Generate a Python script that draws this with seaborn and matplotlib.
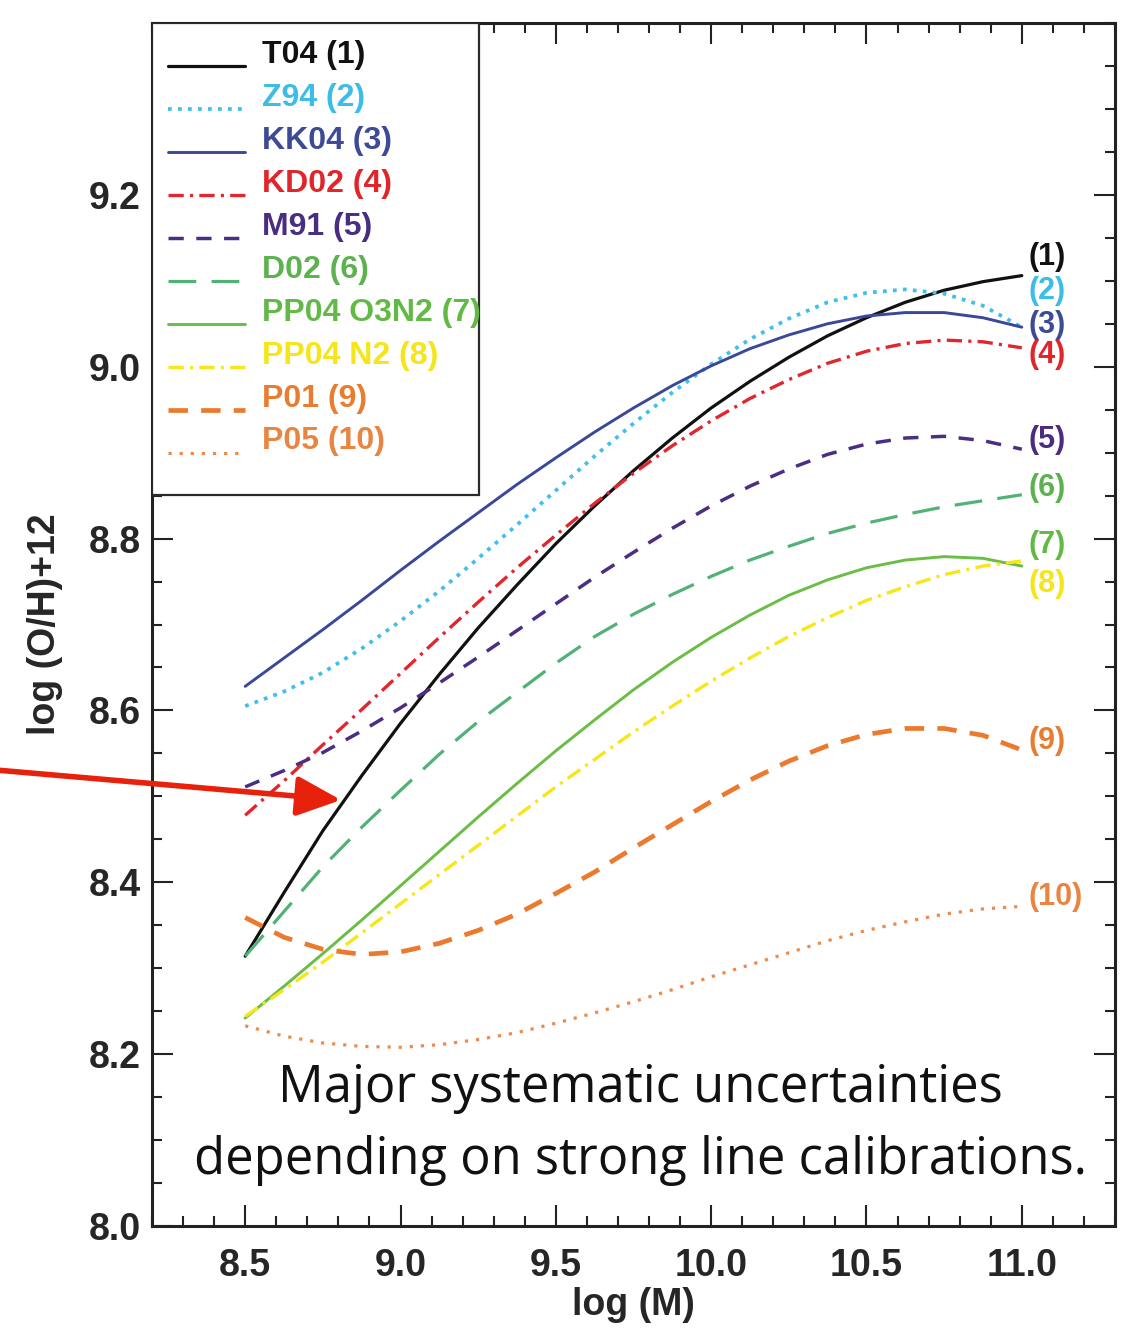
import numpy as np
import pandas as pd
import matplotlib
matplotlib.use("Agg")
import matplotlib.pyplot as plt
import seaborn as sns
from matplotlib.patches import Rectangle
from matplotlib.ticker import MultipleLocator, FormatStrFormatter

# ---- data: 12+log(O/H) versus log stellar mass for ten calibrations ----
log_mass = [8.5, 8.625, 8.75, 8.875, 9.0, 9.125, 9.25, 9.375, 9.5, 9.625,
            9.75, 9.875, 10.0, 10.125, 10.25, 10.375, 10.5, 10.625, 10.75,
            10.875, 11.0]

t04 = [8.314, 8.388, 8.460, 8.524, 8.585, 8.642, 8.696, 8.746, 8.794, 8.838,
       8.879, 8.917, 8.952, 8.983, 9.011, 9.036, 9.057, 9.075, 9.089, 9.099,
       9.106]
z94 = [8.605, 8.622, 8.644, 8.672, 8.704, 8.739, 8.777, 8.816, 8.856, 8.896,
       8.934, 8.970, 9.003, 9.032, 9.056, 9.075, 9.086, 9.090, 9.085, 9.071,
       9.046]
kk04 = [8.628, 8.661, 8.694, 8.728, 8.763, 8.797, 8.830, 8.863, 8.894, 8.924,
        8.952, 8.978, 9.001, 9.021, 9.037, 9.050, 9.059, 9.063, 9.063, 9.057,
        9.046]
kd02 = [8.478, 8.518, 8.560, 8.601, 8.643, 8.685, 8.726, 8.766, 8.804, 8.841,
        8.876, 8.908, 8.937, 8.963, 8.985, 9.004, 9.018, 9.027, 9.031, 9.029,
        9.022]
m91 = [8.511, 8.530, 8.551, 8.576, 8.603, 8.632, 8.662, 8.693, 8.724, 8.755,
       8.784, 8.812, 8.838, 8.861, 8.881, 8.898, 8.910, 8.917, 8.919, 8.914,
       8.904]
d02 = [8.314, 8.366, 8.418, 8.464, 8.507, 8.549, 8.587, 8.621, 8.655, 8.686,
       8.712, 8.735, 8.756, 8.775, 8.791, 8.806, 8.818, 8.828, 8.837, 8.844,
       8.851]
pp04_o3n2 = [8.242, 8.279, 8.317, 8.356, 8.396, 8.436, 8.476, 8.515, 8.553,
             8.589, 8.624, 8.656, 8.685, 8.711, 8.734, 8.752, 8.766, 8.775,
             8.779, 8.777, 8.768]
pp04_n2 = [8.244, 8.275, 8.307, 8.341, 8.375, 8.409, 8.443, 8.477, 8.511,
           8.543, 8.575, 8.605, 8.634, 8.661, 8.686, 8.708, 8.728, 8.744,
           8.758, 8.768, 8.774]
p01 = [8.359, 8.336, 8.322, 8.316, 8.319, 8.329, 8.344, 8.363, 8.387, 8.412,
       8.440, 8.467, 8.494, 8.519, 8.541, 8.559, 8.572, 8.579, 8.579, 8.571,
       8.554]
p05 = [8.233, 8.221, 8.213, 8.209, 8.208, 8.211, 8.217, 8.225, 8.236, 8.248,
       8.261, 8.275, 8.290, 8.304, 8.318, 8.332, 8.344, 8.354, 8.363, 8.369,
       8.372]

calibrations = ["T04", "Z94", "KK04", "KD02", "M91", "D02",
                "PP04 O3N2", "PP04 N2", "P01", "P05"]
series = [t04, z94, kk04, kd02, m91, d02, pp04_o3n2, pp04_n2, p01, p05]

x_ticks = [8.5, 9.0, 9.5, 10.0, 10.5, 11.0]
y_ticks = [8.0, 8.2, 8.4, 8.6, 8.8, 9.0, 9.2]

# vertical placement of the "(n)" tags at the right end of each curve
tag_y = [9.128, 9.088, 9.049, 9.014, 8.915, 8.859, 8.792, 8.747, 8.565, 8.383]

df = pd.DataFrame({
    "log_mass": log_mass * len(series),
    "oh": np.concatenate(series),
    "calibration": np.repeat(calibrations, len(log_mass)),
})

# ---- styling per calibration ----
line_colors = ["#111111", "#3fc0ea", "#3a4899", "#e2262e", "#4b2e83",
               "#52b276", "#6abd45", "#f6e61a", "#ec7a2e", "#ee8a4c"]
text_colors = ["#111111", "#3cbde8", "#3d4a96", "#e0252b", "#4a2c80",
               "#5cb24e", "#62b946", "#f5e51a", "#e87d31", "#e98540"]
widths = [2.3, 2.7, 2.1, 2.4, 2.5, 2.3, 2.1, 2.4, 3.4, 2.3]
styles = ["-", (0, (2.7, 4.5)), "-", (0, (11, 4.5, 2.2, 4.5)), (0, (11, 9)),
          (0, (20, 11)), "-", (0, (11, 4.5, 2.2, 4.5)), (0, (14, 9.5)),
          (0, (2.3, 5.7))]

sns.set_style("white")
plt.rcParams["font.family"] = ["Liberation Sans", "DejaVu Sans"]
plt.rcParams["lines.scale_dashes"] = False

W, H = 1129, 1331
fig = plt.figure(figsize=(W / 100, H / 100), dpi=100)
ax = fig.add_axes([152 / W, 1 - 1226 / H, (1115 - 152) / W, (1226 - 23) / H])

for name, col, lw, ls in zip(calibrations, line_colors, widths, styles):
    sns.lineplot(data=df[df["calibration"] == name], x="log_mass", y="oh",
                 ax=ax, color=col, linewidth=lw, linestyle=ls,
                 errorbar=None, sort=True, zorder=3)

ax.set_xlim(8.2, 11.3)
ax.set_ylim(8.0, 9.4)

# ---- legend box drawn inside the axes ----
box = Rectangle((8.2, 8.851), 1.054, 0.549, facecolor="white",
                edgecolor="#2a2a2a", linewidth=1.6, zorder=4)
ax.add_patch(box)
for i, (name, lc, tc, lw, ls) in enumerate(zip(calibrations, line_colors,
                                               text_colors, widths, styles)):
    ly = 9.35 - 0.05 * i
    ax.plot([8.25, 8.5], [ly, ly], color=lc, linewidth=lw, linestyle=ls,
            zorder=5)
    ax.text(8.555, ly + 0.013, f"{name} ({i + 1})", color=tc, fontsize=23,
            fontweight="bold", va="center", ha="left", zorder=6)

# ---- curve tags ----
for i, (ty, tc) in enumerate(zip(tag_y, text_colors)):
    ax.text(11.022, ty, f"({i + 1})", color=tc, fontsize=22,
            fontweight="bold", va="center", ha="left", zorder=6)

# ---- axes decoration ----
ax.set_xticks(x_ticks)
ax.set_yticks(y_ticks)
ax.xaxis.set_minor_locator(MultipleLocator(0.1))
ax.yaxis.set_minor_locator(MultipleLocator(0.05))
ax.xaxis.set_major_formatter(FormatStrFormatter("%.1f"))
ax.yaxis.set_major_formatter(FormatStrFormatter("%.1f"))
ax.tick_params(which="both", direction="in", top=True, right=True,
               bottom=True, left=True, color="#222222", width=1.5)
ax.tick_params(which="major", length=15, labelsize=27, pad=8)
ax.tick_params(axis="x", which="major", pad=16)
ax.tick_params(which="minor", length=7)
for lab in ax.get_xticklabels() + ax.get_yticklabels():
    lab.set_fontweight("bold")
for sp in ax.spines.values():
    sp.set_linewidth(2.2)
    sp.set_color("#222222")

ax.set_xlabel("log (M)", fontsize=27, fontweight="bold")
ax.set_ylabel("log (O/H)+12", fontsize=27, fontweight="bold")
ax.xaxis.set_label_coords(0.5, (1226 - 1305) / (1226 - 23))
ax.xaxis.label.set_va("center")
ax.yaxis.set_label_coords((45 - 152) / (1115 - 152), 0.5)
ax.yaxis.label.set_va("center")

# ---- note and pointer ----
note_font = ["Open Sans", "DejaVu Sans"]
fig.text(640 / W, 1 - 1102 / H, "Major systematic uncertainties",
         fontsize=36.5, family=note_font, ha="center", va="baseline",
         color="#111111")
fig.text(640 / W, 1 - 1174 / H, "depending on strong line calibrations.",
         fontsize=36.5, family=note_font, ha="center", va="baseline",
         color="#111111")

ax.annotate("", xy=(341, H - 800), xycoords="figure pixels",
            xytext=(-4, H - 770), textcoords="figure pixels",
            arrowprops=dict(arrowstyle="-|>,head_length=1.0,head_width=0.45",
                            color="#e8210c", lw=4.0, mutation_scale=27,
                            shrinkA=0, shrinkB=0),
            annotation_clip=False)

fig.savefig("out.png", dpi=100)
